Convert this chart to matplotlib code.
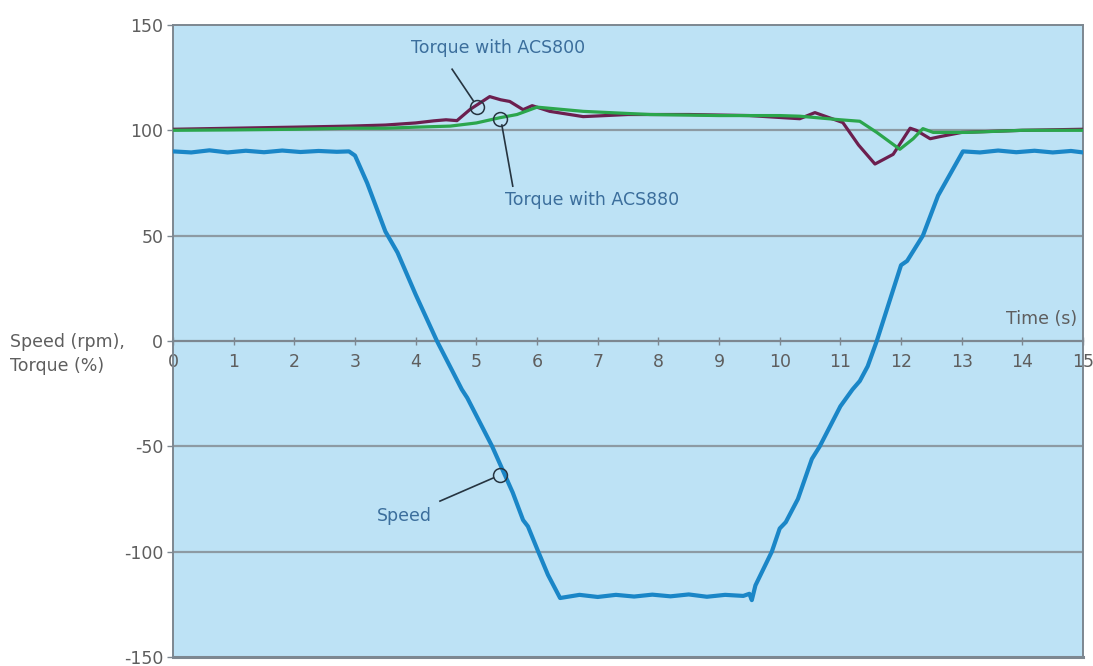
import numpy as np
import matplotlib
matplotlib.use("Agg")
import matplotlib.pyplot as plt

plt.rcParams['font.family'] = ['DejaVu Sans']
plt.rcParams['axes.unicode_minus'] = False

# Speed (rpm)
speed_t = [0, 0.3, 0.6, 0.9, 1.2, 1.5, 1.8, 2.1, 2.4, 2.7, 2.9, 3.0, 3.2, 3.5, 3.7,
           4.0, 4.35, 4.6, 4.76, 4.85, 5.26, 5.6, 5.77, 5.85, 6.02, 6.18, 6.38,
           6.7, 7.0, 7.3, 7.6, 7.9, 8.2, 8.5, 8.8, 9.1, 9.4, 9.5, 9.54, 9.6, 9.87,
           10.0, 10.1, 10.3, 10.53, 10.66, 11.0, 11.2, 11.32, 11.45, 11.6, 12.0,
           12.1, 12.36, 12.61, 13.02, 13.3, 13.6, 13.9, 14.2, 14.5, 14.8, 15]
speed = [90, 89.5, 90.5, 89.5, 90.3, 89.6, 90.4, 89.7, 90.2, 89.8, 90, 88, 75, 52, 42,
         22, 0, -14, -23, -27, -50, -72, -85, -88, -100, -111, -122,
         -120.5, -121.5, -120.5, -121.3, -120.4, -121.2, -120.3, -121.4, -120.5, -121, -120, -123, -116, -100,
         -89, -86, -75, -56, -50, -31, -23, -19, -12, 0, 36,
         38, 50, 69, 90, 89.5, 90.4, 89.6, 90.3, 89.5, 90.2, 89.5]

# Torque (%) with ACS800
acs800_t = [0, 1.0, 2.0, 2.92, 3.5, 4.0, 4.3, 4.5, 4.68, 4.9, 5.22, 5.4, 5.55,
            5.77, 5.92, 6.21, 6.76, 7.5, 8.5, 9.5, 10.33, 10.58, 11.04, 11.3,
            11.57, 11.87, 12.15, 12.25, 12.48, 12.64, 13.0, 14.0, 15]
acs800 = [100.5, 101, 101.5, 102, 102.5, 103.5, 104.5, 105, 104.6, 110, 116, 114.5, 113.7,
          109.8, 111.7, 109, 106.5, 107.5, 107.5, 107, 105.5, 108.4, 103.7, 93,
          84, 88.6, 101, 100, 96, 97, 99, 100, 100.5]

# Torque (%) with ACS880
acs880_t = [0, 1.0, 2.0, 2.92, 3.5, 4.0, 4.57, 5.0, 5.39, 5.67, 6.0, 6.76, 7.86,
            9.0, 10.0, 10.33, 11.0, 11.32, 11.6, 11.98, 12.2, 12.36, 12.53, 13.08,
            14.0, 15]
acs880 = [100, 100.2, 100.5, 101, 101, 101.5, 102, 103.5, 106, 107.5, 111, 109, 107.5,
          107, 107, 106.7, 105, 104.3, 99, 91, 96, 100.8, 99, 99,
          100, 100]

yticks = [-150, -100, -50, 0, 50, 100, 150]
xticks = list(range(0, 16))

fig = plt.figure(figsize=(10.93, 6.66), dpi=100)
ax = fig.add_axes([0.1583, 0.0135, 0.8326, 0.949])
ax.set_facecolor('#bde2f5')

for g in [-100, -50, 50, 100]:
    ax.axhline(g, color='#8d9aa3', lw=1.6, zorder=1)

ax.plot(speed_t, speed, color='#1a86c7', lw=3.0, zorder=3, solid_joinstyle='round')
ax.plot(acs800_t, acs800, color='#6c1f4f', lw=2.3, zorder=3)
ax.plot(acs880_t, acs880, color='#2ba64c', lw=2.3, zorder=4)

ax.set_xlim(0, 15)
ax.set_ylim(-150, 150)

for s in ['left', 'right', 'top']:
    ax.spines[s].set_color('#7d8790')
    ax.spines[s].set_linewidth(1.4)
ax.spines['bottom'].set_position(('data', 0))
ax.spines['bottom'].set_color('#7d8790')
ax.spines['bottom'].set_linewidth(1.6)
ax.axhline(-150, color='#7d8790', lw=2.2, clip_on=False, zorder=5)

fs = 12.5
ax.set_yticks(yticks)
ax.set_xticks(xticks)
ax.tick_params(axis='y', colors='#7d8790', labelcolor='#5e5e5e', labelsize=fs,
               length=4, width=1, pad=3)
ax.tick_params(axis='x', colors='#7d8790', labelcolor='#5e5e5e', labelsize=fs,
               direction='inout', length=6, width=1, pad=6)

fig.text(10 / 1093, 1 - 342 / 666, 'Speed (rpm),', ha='left', va='center',
         fontsize=fs, color='#5e5e5e')
fig.text(10 / 1093, 1 - 366 / 666, 'Torque (%)', ha='left', va='center',
         fontsize=fs, color='#5e5e5e')
ax.text(14.9, 6, 'Time (s)', ha='right', va='bottom', fontsize=fs, color='#5e5e5e')

ann_col = '#3b6e9c'
kw = dict(color='#263440', lw=1.2)
# Torque with ACS800
ax.plot([5.01], [111], 'o', ms=10, mfc='none', mec='#263440', mew=1.1, zorder=6)
ax.plot([4.6, 4.95], [129, 114], **kw)
ax.text(5.35, 139, 'Torque with ACS800', ha='center', va='center', fontsize=fs, color=ann_col)
# Torque with ACS880
ax.plot([5.39], [105.6], 'o', ms=10, mfc='none', mec='#263440', mew=1.1, zorder=6)
ax.plot([5.42, 5.6], [102.5, 73.5], **kw)
ax.text(6.9, 67, 'Torque with ACS880', ha='center', va='center', fontsize=fs, color=ann_col)
# Speed
ax.plot([5.39], [-63.5], 'o', ms=10, mfc='none', mec='#263440', mew=1.1, zorder=6)
ax.plot([4.4, 5.28], [-76, -65], **kw)
ax.text(3.82, -83, 'Speed', ha='center', va='center', fontsize=fs, color=ann_col)

fig.savefig('out.png', dpi=100)
